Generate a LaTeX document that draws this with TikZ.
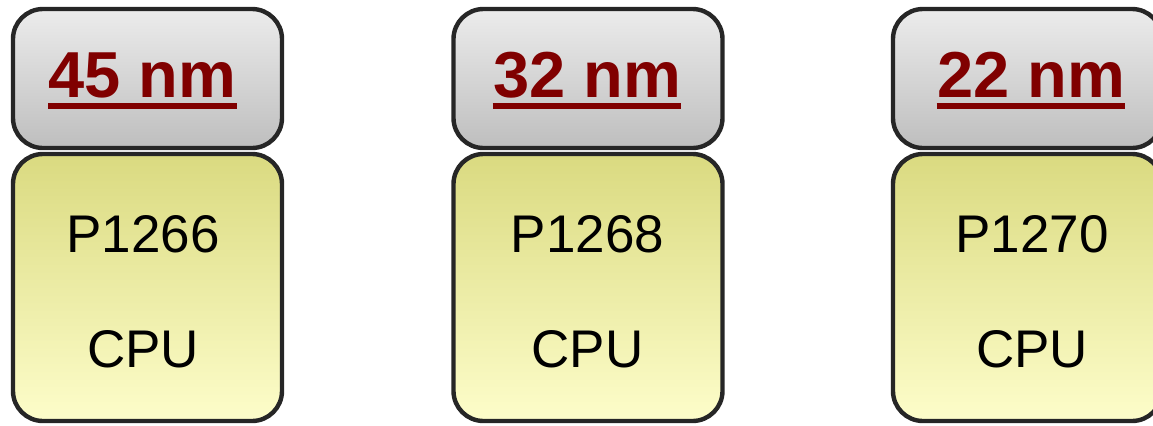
\documentclass[tikz,border=0pt]{standalone}
\usepackage{fontspec}
\setmainfont{Liberation Sans}
\usetikzlibrary{positioning}
\definecolor{nmred}{RGB}{128,0,0}
\definecolor{hdtop}{RGB}{236,236,236}
\definecolor{hdbot}{RGB}{190,190,190}
\definecolor{cputop}{RGB}{218,218,128}
\definecolor{cpubot}{RGB}{253,253,202}
\definecolor{edgegray}{RGB}{38,38,38}
\begin{document}
\begin{tikzpicture}[x=0.5pt,y=-0.5pt,
  hdbox/.style={draw=edgegray,line width=2.2pt,rounded corners=15pt,minimum width=134.5pt,minimum height=69.5pt,top color=hdtop,bottom color=hdbot,inner sep=0pt},
  cpubox/.style={draw=edgegray,line width=2.2pt,rounded corners=15pt,minimum width=134.5pt,minimum height=133.5pt,top color=cputop,bottom color=cpubot,inner sep=0pt},
  nmtext/.style={font=\fontsize{32.5}{32.5}\selectfont\bfseries,text=nmred,inner sep=0pt,anchor=base},
  cputext/.style={font=\fontsize{26.5}{26.5}\selectfont,inner sep=0pt,anchor=base},
  uline/.style={draw=nmred,line width=3pt}]
  \useasboundingbox (0,0) rectangle (1153,425);
  % boxes
  \node[hdbox] (h1) at (147.5,78.5) {};
  \node[cpubox] (c1) at (147.5,287.5) {};
  \node[hdbox] (h2) at (588,78.5) {};
  \node[cpubox] (c2) at (588,287.5) {};
  \node[hdbox] (h3) at (1027.5,78.5) {};
  \node[cpubox] (c3) at (1027.5,287.5) {};
  % process sizes
  \node[nmtext] (n1) at (142.5,97) {45 nm};
  \node[nmtext] (n2) at (587,97) {32 nm};
  \node[nmtext] (n3) at (1031,97) {22 nm};
  \draw[uline] ([yshift=-4.5pt]n1.base west) -- ([yshift=-4.5pt]n1.base east);
  \draw[uline] ([yshift=-4.5pt]n2.base west) -- ([yshift=-4.5pt]n2.base east);
  \draw[uline] ([yshift=-4.5pt]n3.base west) -- ([yshift=-4.5pt]n3.base east);
  % chips
  \node[cputext] (p1) at (143,252) {P1266};
  \node[cputext] (u1) at (143,367) {CPU};
  \node[cputext] (p2) at (587.5,252) {P1268};
  \node[cputext] (u2) at (587.5,367) {CPU};
  \node[cputext] (p3) at (1032,252) {P1270};
  \node[cputext] (u3) at (1032,367) {CPU};
\end{tikzpicture}
\end{document}
